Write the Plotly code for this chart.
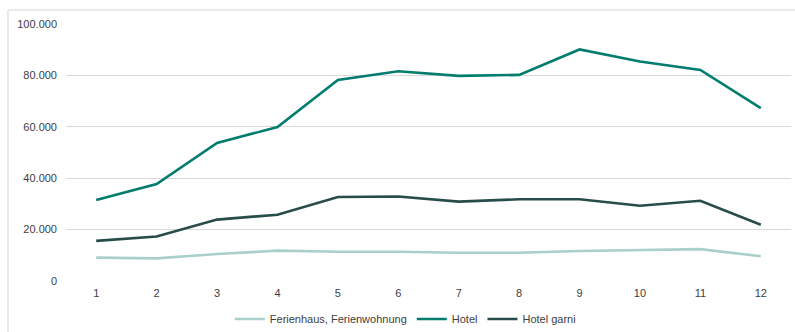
import plotly.graph_objects as go

months = ["1", "2", "3", "4", "5", "6", "7", "8", "9", "10", "11", "12"]
ferienhaus = [9100, 8800, 10500, 11800, 11400, 11400, 11000, 11000, 11700, 12100, 12400, 9600]
hotel = [31500, 37700, 53700, 59900, 78200, 81600, 79800, 80200, 90100, 85400, 82100, 67300]
hotel_garni = [15600, 17300, 23900, 25800, 32700, 32900, 30900, 31800, 31800, 29300, 31200, 21900]

series_names = ["Ferienhaus, Ferienwohnung", "Hotel", "Hotel garni"]
series_values = [ferienhaus, hotel, hotel_garni]
series_colors = ["#a9d0ca", "#007d6f", "#274c49"]

y_ticks = [0, 20000, 40000, 60000, 80000, 100000]

fig = go.Figure()
for name, vals, col in zip(series_names, series_values, series_colors):
    fig.add_trace(go.Scatter(x=months, y=vals, name=name, mode="lines",
                             line=dict(color=col, width=2.6)))

fig.update_layout(
    width=795, height=332,
    margin=dict(l=66, r=4, t=24, b=51, autoexpand=False),
    paper_bgcolor="white", plot_bgcolor="white",
    separators=",.",
    font=dict(family="Liberation Sans, Arial, sans-serif", size=11, color="#404040"),
    showlegend=True,
    legend=dict(orientation="h", x=0.468, xanchor="center", y=-0.148, yanchor="middle",
                font=dict(size=11, color="#404040"), itemwidth=30, traceorder="normal"),
    shapes=[
        dict(type="line", xref="paper", yref="paper", x0=-0.08, x1=1.2, y0=1.054, y1=1.054,
             line=dict(color="#e3e3e3", width=1.5)),
        dict(type="line", xref="paper", yref="paper", x0=-0.08, x1=-0.08, y0=1.054, y1=-0.3,
             line=dict(color="#e3e3e3", width=1.5)),
    ],
)
fig.update_xaxes(type="category", range=[-0.5, 11.5], showgrid=False, zeroline=False,
                 showline=False, ticks="", ticklabelstandoff=4,
                 tickfont=dict(size=11, color="#404040"))
fig.update_yaxes(range=[0, 100000], tickvals=y_ticks, tickformat=",d", showgrid=True,
                 gridcolor="#d9d9d9", gridwidth=1, zeroline=False, showline=False,
                 ticks="", ticklabelstandoff=8, tickfont=dict(size=11, color="#404040"))
fig.write_html("out.html", config={"displayModeBar": False},
               post_script="document.body.style.margin='0';")
